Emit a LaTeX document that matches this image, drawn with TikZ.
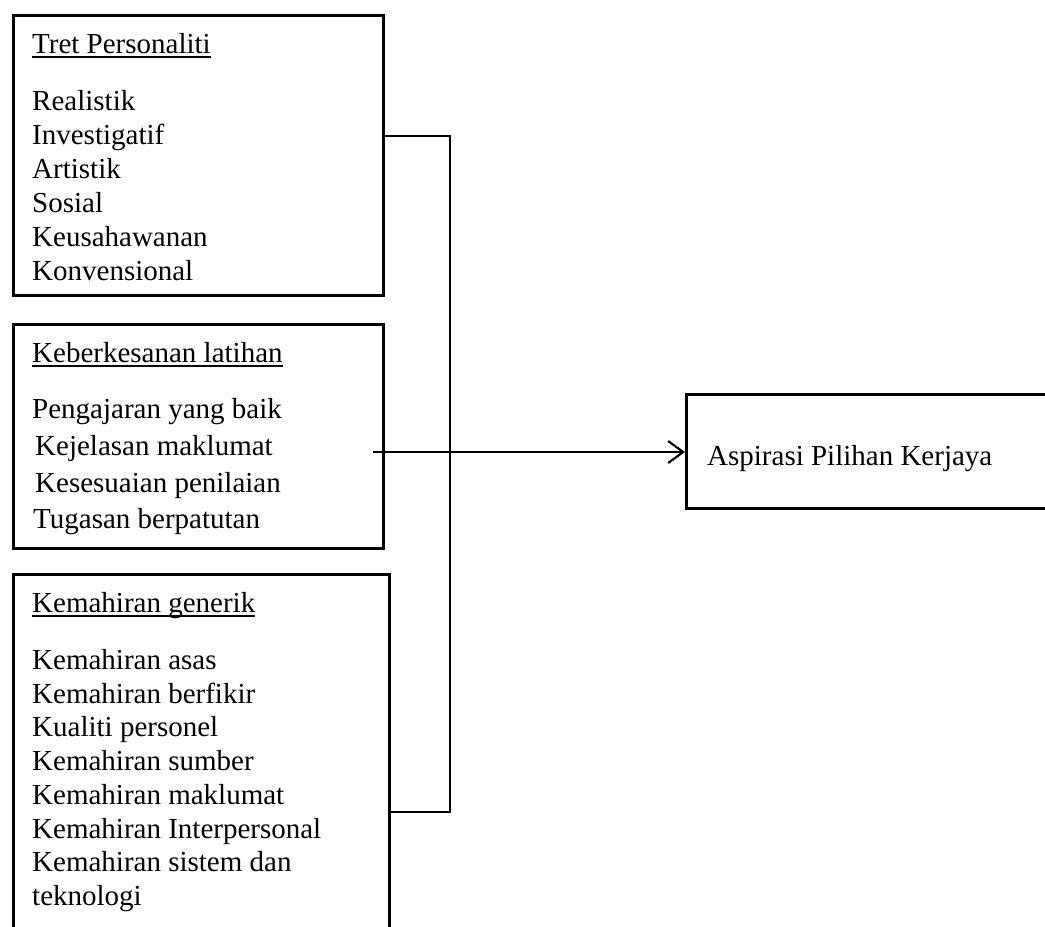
\documentclass[tikz,border=0pt]{standalone}
\usepackage{fontspec}
\setmainfont{Liberation Serif}
\usetikzlibrary{arrows.meta}
\newcommand\ulx[1]{\setbox0\hbox{#1}\rlap{\rule[-5pt]{\wd0}{1.8pt}}\box0}
\tikzset{
  boxstyle/.style={draw, line width=2.6pt, inner sep=0pt},
  txt/.style={anchor=base west, inner sep=0pt, font=\fontsize{29}{34}\selectfont},
  conn/.style={line width=2.2pt},
  arr/.style={line width=2.2pt, -{Straight Barb[length=15pt,width=22pt,line width=2.2pt]}}
}
\begin{document}
\begin{tikzpicture}[x=1pt,y=-1pt]
\useasboundingbox (0,0) rectangle (1045,927);
\clip (0,0) rectangle (1045,927);
% boxes
\node[boxstyle, minimum width=370pt, minimum height=280pt, anchor=north west] (box1) at (12,14) {};
\node[boxstyle, minimum width=370pt, minimum height=224pt, anchor=north west] (box2) at (12,323) {};
\node[boxstyle, minimum width=376pt, minimum height=370pt, anchor=north west] (box3) at (12,573) {};
\node[boxstyle, minimum width=380pt, minimum height=114pt, anchor=north west] (ra) at (685,393) {};
% box 1 text
\node[txt] (t1) at (32,53) {\ulx{Tret Personaliti}};
\node[txt] (t1a) at (32,110) {Realistik};
\node[txt] (t1b) at (32,144) {Investigatif};
\node[txt] (t1c) at (32,178) {Artistik};
\node[txt] (t1d) at (32,212) {Sosial};
\node[txt] (t1e) at (32,246) {Keusahawanan};
\node[txt] (t1f) at (32,280) {Konvensional};
% box 2 text
\node[txt] (t2) at (32,362) {\ulx{Keberkesanan latihan}};
\node[txt] (t2a) at (32,418) {Pengajaran yang baik};
\node[txt] (t2b) at (35,455) {Kejelasan maklumat};
\node[txt] (t2c) at (35,492) {Kesesuaian penilaian};
\node[txt] (t2d) at (33,528) {Tugasan berpatutan};
% box 3 text
\node[txt] (t3) at (32,612) {\ulx{Kemahiran generik}};
\node[txt] (t3a) at (32,669) {Kemahiran asas};
\node[txt] (t3b) at (32,703) {Kemahiran berfikir};
\node[txt] (t3c) at (32,736) {Kualiti personel};
\node[txt] (t3d) at (32,770) {Kemahiran sumber};
\node[txt] (t3e) at (32,804) {Kemahiran maklumat};
\node[txt] (t3f) at (32,838) {Kemahiran Interpersonal};
\node[txt] (t3g) at (32,871) {Kemahiran sistem dan};
\node[txt] (t3h) at (32,905) {teknologi};
% right box text
\node[txt] (t4) at (707,465) {Aspirasi Pilihan Kerjaya};
% connectors
\coordinate (j1) at (450,136);
\coordinate (j3) at (450,812);
\coordinate (src) at (373,452);
\draw[conn] (box1.east |- j1) -- (j1) -- (j3) -- (box3.east |- j3);
\draw[arr] (src) -- (src -| ra.west);
\end{tikzpicture}
\end{document}
